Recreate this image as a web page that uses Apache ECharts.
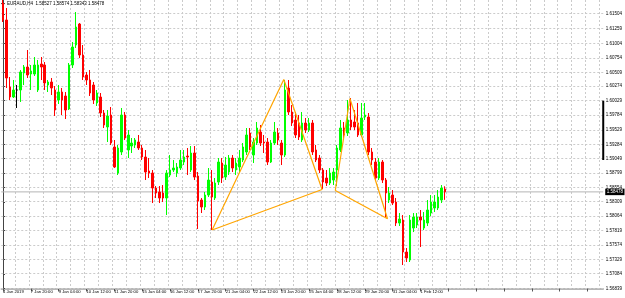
<!DOCTYPE html>
<html>
<head>
<meta charset="utf-8">
<script src="https://cdn.jsdelivr.net/npm/echarts@6/dist/echarts.min.js"></script>
<style>
  html, body { margin: 0; padding: 0; background: #fff; }
  #main { width: 625px; height: 298px; }
</style>
</head>
<body>
<div id="main"></div>
<script>
// EURAUD H4 bars
const opens = [
  1.61689, 1.61400, 1.60261, 1.60091, 1.60210, 1.60210, 1.60499, 1.60601, 1.60482, 1.60482,
  1.60210, 1.60652, 1.60635, 1.60295, 1.60346, 1.60210, 1.60040, 1.60176, 1.60108, 1.59887,
  1.60635, 1.60975, 1.61332, 1.60805, 1.60465, 1.60380, 1.60295, 1.59989, 1.60091, 1.59819,
  1.59581, 1.59785, 1.59241, 1.58799, 1.59156, 1.59785, 1.59190, 1.59258, 1.59275, 1.59326,
  1.59224, 1.59071, 1.58833, 1.58799, 1.58544, 1.58476, 1.58459, 1.58374, 1.58765, 1.58850,
  1.58799, 1.58884, 1.58986, 1.59088, 1.58850, 1.59139, 1.58748, 1.58340, 1.58221, 1.58425,
  1.58646, 1.58374, 1.58646, 1.58969, 1.58731, 1.58816, 1.59054, 1.58850, 1.58901, 1.59020,
  1.59156, 1.59479, 1.59105, 1.59309, 1.59496, 1.59326, 1.59326, 1.58986, 1.59309, 1.59479,
  1.59309, 1.59105, 1.60244, 1.59836, 1.59700, 1.59649, 1.59360, 1.59649, 1.59530, 1.59649,
  1.59190, 1.59054, 1.58850, 1.58714, 1.58629, 1.58680, 1.58850, 1.59190, 1.59564, 1.59479,
  1.59700, 1.59666, 1.59649, 1.59445, 1.59751, 1.59751, 1.59156, 1.58986, 1.58714, 1.58986,
  1.58680, 1.58340, 1.58425, 1.58306, 1.57949, 1.58000, 1.57456, 1.57320, 1.57864, 1.57915,
  1.58051, 1.57864, 1.57949, 1.58119, 1.58204, 1.58204, 1.58340, 1.58527
];
const highs = [
  1.61740, 1.61604, 1.60431, 1.60380, 1.60295, 1.60550, 1.60635, 1.60890, 1.60635, 1.60771,
  1.60720, 1.60771, 1.60686, 1.60380, 1.60414, 1.60278, 1.60295, 1.60244, 1.60176, 1.60669,
  1.61026, 1.61536, 1.61349, 1.60975, 1.60516, 1.60550, 1.60346, 1.60210, 1.60159, 1.59870,
  1.59870, 1.59921, 1.59360, 1.59275, 1.59904, 1.59836, 1.59530, 1.59394, 1.59394, 1.59445,
  1.59275, 1.59190, 1.59054, 1.58850, 1.58578, 1.58578, 1.58595, 1.58850, 1.59105, 1.59020,
  1.58969, 1.59190, 1.59190, 1.59224, 1.59258, 1.59258, 1.58816, 1.58374, 1.58476, 1.58884,
  1.58850, 1.58714, 1.59054, 1.59054, 1.59071, 1.59105, 1.59105, 1.59054, 1.59190, 1.59309,
  1.59564, 1.59564, 1.59394, 1.59666, 1.59615, 1.59445, 1.59394, 1.59360, 1.59666, 1.59564,
  1.59360, 1.60380, 1.60380, 1.59955, 1.59836, 1.59785, 1.59836, 1.59734, 1.59734, 1.59700,
  1.59275, 1.59105, 1.58884, 1.58850, 1.58884, 1.58884, 1.59275, 1.59700, 1.59666, 1.60040,
  1.60074, 1.59870, 1.59989, 1.59989, 1.59989, 1.59819, 1.59224, 1.59054, 1.59054, 1.59020,
  1.58714, 1.58561, 1.58510, 1.58374, 1.58119, 1.58085, 1.57524, 1.58085, 1.58119, 1.58119,
  1.58170, 1.58136, 1.58340, 1.58425, 1.58425, 1.58510, 1.58595, 1.58574
];
const lows = [
  1.61366, 1.60244, 1.60040, 1.60074, 1.59904, 1.60006, 1.60295, 1.60414, 1.60210, 1.60448,
  1.60176, 1.60380, 1.60210, 1.60176, 1.60125, 1.59768, 1.59972, 1.59785, 1.59717, 1.59870,
  1.60584, 1.60924, 1.60754, 1.60380, 1.60295, 1.60108, 1.59972, 1.59938, 1.59751, 1.59564,
  1.59326, 1.59275, 1.58884, 1.58765, 1.59105, 1.59360, 1.59054, 1.59139, 1.59224, 1.59190,
  1.59020, 1.58680, 1.58714, 1.58289, 1.58374, 1.58289, 1.58306, 1.58085, 1.58731, 1.58816,
  1.58731, 1.58850, 1.58935, 1.58765, 1.58816, 1.58680, 1.57847, 1.58119, 1.58170, 1.58391,
  1.57830, 1.58340, 1.58595, 1.58629, 1.58680, 1.58765, 1.58816, 1.58765, 1.58816, 1.58986,
  1.59105, 1.59190, 1.58969, 1.59275, 1.59258, 1.59139, 1.58935, 1.58969, 1.59275, 1.59275,
  1.58935, 1.59071, 1.59785, 1.59598, 1.59394, 1.59360, 1.59326, 1.59479, 1.59496, 1.59105,
  1.58986, 1.58799, 1.58527, 1.58578, 1.58595, 1.58595, 1.58578, 1.59156, 1.59360, 1.59428,
  1.59530, 1.59530, 1.59411, 1.59411, 1.59700, 1.59105, 1.58935, 1.58663, 1.58680, 1.58629,
  1.58051, 1.58289, 1.58255, 1.57898, 1.57898, 1.57235, 1.57286, 1.57286, 1.57796, 1.57864,
  1.57541, 1.57830, 1.57898, 1.58068, 1.58136, 1.58170, 1.58289, 1.58343
];
const closes = [
  1.61400, 1.60414, 1.60091, 1.60210, 1.60210, 1.60516, 1.60601, 1.60465, 1.60533, 1.60635,
  1.60635, 1.60601, 1.60329, 1.60346, 1.60244, 1.59870, 1.60176, 1.60040, 1.59870, 1.60635,
  1.60941, 1.61281, 1.60805, 1.60431, 1.60380, 1.60159, 1.60040, 1.60159, 1.59819, 1.59615,
  1.59768, 1.59309, 1.58901, 1.59224, 1.59785, 1.59394, 1.59445, 1.59309, 1.59360, 1.59224,
  1.59071, 1.58816, 1.58799, 1.58544, 1.58459, 1.58374, 1.58374, 1.58799, 1.58850, 1.58884,
  1.58901, 1.59020, 1.59071, 1.59071, 1.59139, 1.58731, 1.58323, 1.58221, 1.58425, 1.58680,
  1.58391, 1.58629, 1.58986, 1.58714, 1.58935, 1.59054, 1.58884, 1.58969, 1.59054, 1.59241,
  1.59445, 1.59241, 1.59326, 1.59564, 1.59309, 1.59309, 1.58986, 1.59309, 1.59496, 1.59360,
  1.59105, 1.60210, 1.59836, 1.59649, 1.59445, 1.59411, 1.59649, 1.59530, 1.59649, 1.59156,
  1.59020, 1.58850, 1.58646, 1.58629, 1.58799, 1.58816, 1.59224, 1.59564, 1.59445, 1.59700,
  1.59581, 1.59581, 1.59445, 1.59734, 1.59785, 1.59156, 1.59020, 1.58714, 1.58986, 1.58680,
  1.58459, 1.58459, 1.58289, 1.57949, 1.58017, 1.57456, 1.57354, 1.58000, 1.58051, 1.58051,
  1.58000, 1.58000, 1.58170, 1.58306, 1.58306, 1.58391, 1.58544, 1.58478
];

const tickLabels = [
  '4 Jan 2019', '7 Jan 20:00', '9 Jan 04:00', '10 Jan 12:00', '11 Jan 20:00', '15 Jan 04:00',
  '16 Jan 12:00', '17 Jan 20:00', '21 Jan 04:00', '22 Jan 12:00', '23 Jan 20:00', '25 Jan 04:00',
  '28 Jan 12:00', '29 Jan 20:00', '31 Jan 04:00', '1 Feb 12:00'
];
const priceTicks = [
  1.61504, 1.61259, 1.61004, 1.60754, 1.60509, 1.60274, 1.60029, 1.59784, 1.59529, 1.59284,
  1.59049, 1.58799, 1.58554, 1.58309, 1.58064, 1.57819, 1.57574, 1.57329, 1.57084, 1.56839
];

// the two drawn triangles: [bar position, price]
const triangleLeft = [[60.1, 1.57830], [80.7, 1.60389], [91.7, 1.58519], [60.1, 1.57830]];
const triangleRight = [[95.5, 1.58502], [99.7, 1.60066], [110.5, 1.58022], [95.5, 1.58502]];
const scaleMark = [1.60029, 1.59020];

const slotCount = 173;
const yMin = 1.56836, yMax = 1.6174;
const last = closes.length - 1;
const lastPrice = closes[last];
const font = 'Liberation Sans, Arial, sans-serif';
const gridColor = '#cbcbcb';

const candles = opens.map((o, i) => [o, closes[i], lows[i], highs[i]]);
const slots = Array.from({length: slotCount}, (_, i) => i);
// vertical grid every 4 bars (slot edges)
const vLines = [];
for (let k = 4; k < slotCount; k += 4) vLines.push(k - 0.5);

// crisp dotted grid line through the chart's own scales
function gridLine(horizontal) {
  return function (params, api) {
    const cs = params.coordSys;
    const v = api.value(0);
    if (horizontal) {
      const y = Math.floor(api.coord([0, v])[1]) + 0.5;
      return {type: 'line', silent: true,
        shape: {x1: cs.x, y1: y, x2: cs.x + cs.width, y2: y},
        style: {stroke: gridColor, lineWidth: 1, lineDash: [2, 2]}};
    }
    const x = Math.floor(api.coord([v, yMin])[0]) + 0.5;
    return {type: 'line', silent: true,
      shape: {x1: x, y1: cs.y, x2: x, y2: cs.y + cs.height},
      style: {stroke: gridColor, lineWidth: 1, lineDash: [2, 2]}};
  };
}

let myChart = echarts.init(document.getElementById('main'));
myChart.setOption({
  animation: false,
  backgroundColor: '#ffffff',
  title: {
    text: 'EURAUD,H4  ' + [opens[last], highs[last], lows[last], closes[last]].map(v => v.toFixed(5)).join(' '),
    left: 7, top: 1.5, padding: 0,
    textStyle: {fontSize: 4.5, fontWeight: 'normal', color: '#000', fontFamily: font}
  },
  graphic: [{
    type: 'polygon', shape: {points: [[1, 3], [5, 3], [3, 6]]}, style: {fill: '#000'}
  }],
  grid: {left: 0.5, right: 19, top: 0, bottom: 9.5},
  xAxis: [{
    type: 'category',
    data: slots,
    boundaryGap: true,
    axisLine: {lineStyle: {color: '#a0a0a0', width: 1.5}},
    axisTick: {show: true, interval: 7, alignWithLabel: true, length: 3, lineStyle: {color: '#555'}},
    axisLabel: {
      interval: 7, align: 'left', margin: 1.5, fontSize: 4.2, color: '#000', fontFamily: font,
      formatter: (v, i) => tickLabels[i / 8] || ''
    },
    splitLine: {show: false}
  }, {
    type: 'value', min: -0.5, max: slotCount - 0.5, show: false
  }],
  yAxis: {
    type: 'value',
    position: 'right',
    min: yMin, max: yMax,
    axisLine: {show: true, lineStyle: {color: '#444'}},
    axisTick: {show: true, customValues: priceTicks, length: 2, lineStyle: {color: '#444'}},
    axisLabel: {
      customValues: priceTicks, margin: 2.5, fontSize: 4.5, color: '#000', fontFamily: font,
      formatter: v => v.toFixed(5)
    },
    splitLine: {show: false}
  },
  series: [{
    type: 'custom', xAxisIndex: 1, z: 1, silent: true,
    renderItem: gridLine(true),
    data: priceTicks.map(v => [v])
  }, {
    type: 'custom', xAxisIndex: 1, z: 1, silent: true,
    renderItem: gridLine(false),
    data: vLines.map(v => [v])
  }, {
    // current price line with its box
    type: 'line', xAxisIndex: 1, z: 1, silent: true, clip: false, symbol: 'none',
    data: [[-0.5, lastPrice], [slotCount - 0.5, lastPrice]],
    lineStyle: {color: '#b4b4b4', width: 1},
    endLabel: {
      show: true, distance: 2,
      formatter: () => lastPrice.toFixed(5),
      backgroundColor: '#000', color: '#fff', fontSize: 4.5, fontFamily: font,
      padding: [1, 1.5, 0.5, 1.5]
    }
  }, {
    type: 'candlestick',
    data: candles,
    barWidth: 2,
    z: 2,
    itemStyle: {
      color: '#00ff00', color0: '#ff0000',
      borderColor: '#00ff00', borderColor0: '#ff0000', borderColorDoji: '#000',
      borderWidth: 1
    }
  }, {
    type: 'line', xAxisIndex: 1, data: triangleLeft, symbol: 'none', z: 3,
    lineStyle: {color: '#ffa500', width: 1.2}
  }, {
    type: 'line', xAxisIndex: 1, data: triangleRight, symbol: 'none', z: 3,
    lineStyle: {color: '#ffa500', width: 1.2}
  }, {
    type: 'line', xAxisIndex: 1, symbol: 'none', clip: false, z: 3,
    data: scaleMark.map(v => [slotCount - 0.5, v]),
    lineStyle: {color: '#000', width: 2}
  }]
});
</script>
</body>
</html>
